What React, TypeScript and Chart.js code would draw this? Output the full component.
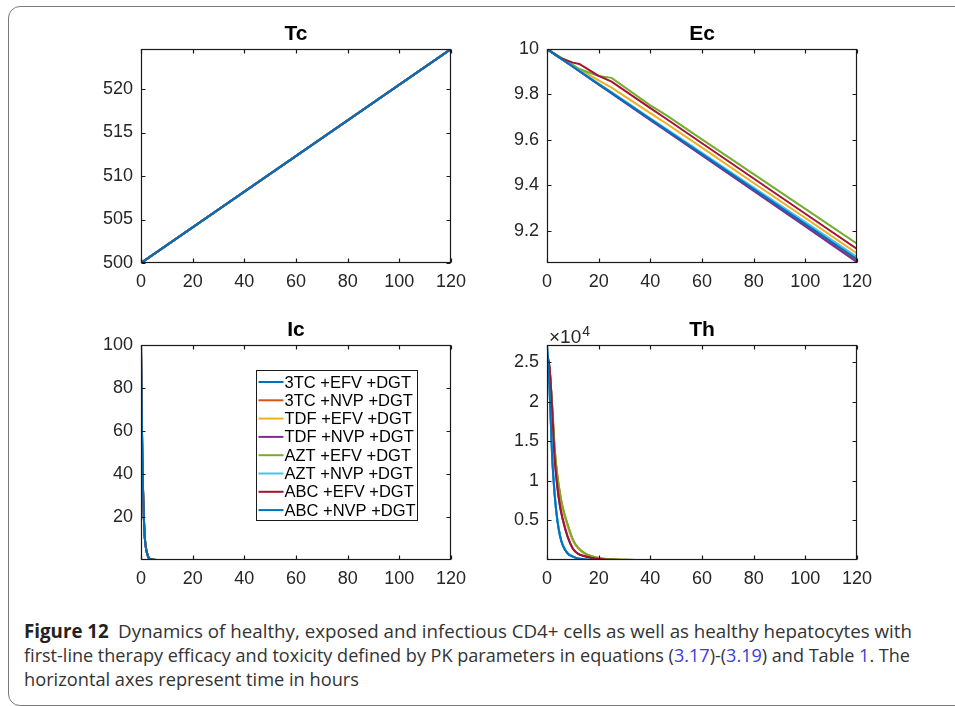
import React, { useEffect, useLayoutEffect, useRef } from "react";
import { Chart, registerables } from "chart.js";
Chart.register(...registerables);

// ---------- data ----------
const seriesNames = [
  "3TC +EFV +DGT",
  "3TC +NVP +DGT",
  "TDF +EFV +DGT",
  "TDF +NVP +DGT",
  "AZT +EFV +DGT",
  "AZT +NVP +DGT",
  "ABC +EFV +DGT",
  "ABC +NVP +DGT",
];
const seriesColors = ["#0072BD", "#D95319", "#EDB120", "#7E2F8E", "#77AC30", "#4DBEEE", "#A2142F", "#0072BD"];

const xTicks = [0, 20, 40, 60, 80, 100, 120];

// Tc (healthy CD4+)
const tcTime = [0, 120];
const tcValues = [
  [500, 524.6],
  [500, 524.6],
  [500, 524.6],
  [500, 524.6],
  [500, 524.6],
  [500, 524.6],
  [500, 524.6],
  [500, 524.6],
];
const tcTicks = [500, 505, 510, 515, 520];

// Ec (exposed CD4+)
const ecTime = [0, 5, 10, 12.5, 20, 25, 40, 46, 60, 80, 100, 120];
const ecValues = [
  [10, 9.961, 9.923, 9.903, 9.845, 9.806, 9.69, 9.644, 9.535, 9.38, 9.225, 9.07],
  [10, 9.961, 9.923, 9.904, 9.846, 9.808, 9.692, 9.646, 9.537, 9.382, 9.227, 9.072],
  [10, 9.963, 9.927, 9.91, 9.862, 9.83, 9.718, 9.673, 9.566, 9.41, 9.256, 9.1],
  [10, 9.961, 9.922, 9.902, 9.843, 9.804, 9.687, 9.64, 9.531, 9.375, 9.219, 9.062],
  [10, 9.965, 9.93, 9.912, 9.881, 9.873, 9.752, 9.71, 9.602, 9.449, 9.296, 9.143],
  [10, 9.962, 9.924, 9.905, 9.848, 9.81, 9.695, 9.65, 9.543, 9.39, 9.238, 9.085],
  [10, 9.962, 9.94, 9.934, 9.882, 9.856, 9.74, 9.694, 9.585, 9.43, 9.275, 9.12],
  [10, 9.961, 9.923, 9.903, 9.845, 9.807, 9.691, 9.645, 9.537, 9.383, 9.229, 9.075],
];
const ecTicks = [9.2, 9.4, 9.6, 9.8, 10];

// Ic (infectious CD4+)
const icTime = [0, 0.2, 0.5, 0.8, 1.1, 1.5, 2, 2.5, 3, 4, 6, 120];
const icValues = [
  [100, 75, 50, 32, 20, 10, 5, 2.5, 1, 0.2, 0, 0],
  [100, 75, 50, 32, 20, 10, 5, 2.5, 1, 0.2, 0, 0],
  [100, 75, 50, 32, 20, 10, 5, 2.5, 1, 0.2, 0, 0],
  [100, 75, 50, 32, 20, 10, 5, 2.5, 1, 0.2, 0, 0],
  [100, 75, 50, 32, 20, 10, 5, 2.5, 1, 0.2, 0, 0],
  [100, 75, 50, 32, 20, 10, 5, 2.5, 1, 0.2, 0, 0],
  [100, 75, 50, 32, 20, 10, 5, 2.5, 1, 0.2, 0, 0],
  [100, 75, 50, 32, 20, 10, 5, 2.5, 1, 0.2, 0, 0],
];
const icTicks = [20, 40, 60, 80, 100];

// Th (healthy hepatocytes)
const thTime = [0, 1, 2, 3, 4, 5, 6, 8, 10, 12, 15, 20, 25, 30, 40, 120];
const thValues = [
  [27100, 21500, 13000, 8100, 5000, 3100, 1950, 820, 420, 190, 50, 5, 0, 0, 0, 0],
  [25600, 24100, 19400, 13800, 10600, 8400, 6700, 4400, 2550, 1520, 760, 250, 80, 26, 3, 0],
  [25700, 24050, 19300, 13600, 10400, 8250, 6550, 4300, 2480, 1480, 740, 245, 78, 25, 3, 0],
  [26100, 24200, 18900, 12700, 9200, 6800, 5200, 2900, 1420, 780, 440, 115, 33, 9, 1, 0],
  [25500, 24000, 19500, 14000, 10800, 8500, 6800, 4500, 2600, 1550, 780, 260, 85, 28, 3, 0],
  [26900, 21700, 13300, 8300, 5150, 3200, 2020, 860, 440, 200, 55, 6, 0, 0, 0, 0],
  [26000, 24300, 19000, 12800, 9300, 6900, 5300, 2950, 1450, 800, 450, 120, 35, 10, 1, 0],
  [27100, 21500, 13000, 8100, 5000, 3100, 1950, 820, 420, 190, 50, 5, 0, 0, 0, 0],
];
const thTicks = [5000, 10000, 15000, 20000, 25000];

// ---------- helpers ----------
const FONT = "'Liberation Sans', Arial, Helvetica, sans-serif";

const boxPlugin = {
  id: "matlabBox",
  afterDatasetsDraw(chart: any) {
    const { ctx, chartArea: a, scales } = chart;
    ctx.save();
    ctx.strokeStyle = "#1a1a1a";
    ctx.lineWidth = 1.2;
    const l = Math.round(a.left) + 0.5;
    const r = Math.round(a.right) - 0.5;
    const t = Math.round(a.top) + 0.5;
    const b = Math.round(a.bottom) - 0.5;
    ctx.strokeRect(l, t, r - l, b - t);
    const tl = 4;
    ctx.beginPath();
    scales.x.ticks.forEach((tk: any) => {
      const px = Math.round(scales.x.getPixelForValue(tk.value)) + 0.5;
      ctx.moveTo(px, b);
      ctx.lineTo(px, b - tl);
      ctx.moveTo(px, t);
      ctx.lineTo(px, t + tl);
    });
    scales.y.ticks.forEach((tk: any) => {
      const py = Math.round(scales.y.getPixelForValue(tk.value)) + 0.5;
      ctx.moveTo(l, py);
      ctx.lineTo(l + tl, py);
      ctx.moveTo(r, py);
      ctx.lineTo(r - tl, py);
    });
    ctx.stroke();
    ctx.restore();
  },
};

const titlePlugin = {
  id: "panelTitle",
  afterDraw(chart: any, _args: any, opts: any) {
    const { ctx, chartArea: a } = chart;
    ctx.save();
    ctx.fillStyle = "#000";
    ctx.font = `bold 21px ${FONT}`;
    ctx.textAlign = "center";
    ctx.textBaseline = "middle";
    ctx.fillText(opts.text, (a.left + a.right) / 2, a.top - 15);
    ctx.restore();
  },
};

const legendPlugin = {
  id: "boxLegend",
  afterDraw(chart: any) {
    const { ctx, chartArea: a } = chart;
    const bx = Math.round(a.left + 115) + 0.5;
    const by = Math.round(a.top + 25) + 0.5;
    const bw = 161;
    const bh = 150;
    ctx.save();
    ctx.fillStyle = "#fff";
    ctx.fillRect(bx, by, bw, bh);
    ctx.strokeStyle = "#1a1a1a";
    ctx.lineWidth = 1;
    ctx.strokeRect(bx, by, bw, bh);
    ctx.font = `16.5px ${FONT}`;
    ctx.textBaseline = "middle";
    seriesNames.forEach((name, i) => {
      const y = by + 11.5 + i * 18.3;
      ctx.strokeStyle = seriesColors[i];
      ctx.lineWidth = 2;
      ctx.beginPath();
      ctx.moveTo(bx + 2, y);
      ctx.lineTo(bx + 27, y);
      ctx.stroke();
      ctx.fillStyle = "#000";
      ctx.fillText(name, bx + 28, y + 1);
    });
    ctx.restore();
  },
};

const exponentPlugin = {
  id: "exponent",
  afterDraw(chart: any) {
    const { ctx, chartArea: a } = chart;
    ctx.save();
    ctx.fillStyle = "#262626";
    ctx.textBaseline = "alphabetic";
    ctx.font = `19px ${FONT}`;
    const base = "\u00d710";
    ctx.fillText(base, a.left + 2, a.top - 2);
    const w = ctx.measureText(base).width;
    ctx.font = `14px ${FONT}`;
    ctx.fillText("4", a.left + 2 + w + 1, a.top - 9);
    ctx.restore();
  },
};

type PanelProps = {
  left: number;
  top: number;
  width: number;
  height: number;
  title: string;
  time: number[];
  values: number[][];
  yMin: number;
  yMax: number;
  yTicks: number[];
  yFormat: (v: number) => string;
  smooth: boolean;
  plugins: any[];
};

const PADL = 70;
const PADR = 40;
const PADT = 40;
const PADB = 40;

function Panel(p: PanelProps) {
  const ref = useRef<HTMLCanvasElement>(null);
  useEffect(() => {
    if (!ref.current) return;
    const datasets = p.values.map((vals, i) => ({
      label: seriesNames[i],
      data: p.time.map((t, j) => ({ x: t, y: vals[j] })),
      borderColor: seriesColors[i],
      backgroundColor: seriesColors[i],
      borderWidth: 2,
      pointRadius: 0,
      fill: false,
      order: p.values.length - i,
      tension: 0,
      cubicInterpolationMode: p.smooth ? "monotone" : "default",
    }));
    const chart = new Chart(ref.current, {
      type: "line",
      data: { datasets: datasets as any },
      options: {
        animation: false,
        responsive: false,
        devicePixelRatio: 1,
        layout: { padding: { left: 0, right: PADR, top: PADT, bottom: 0 } },
        plugins: {
          legend: { display: false },
          tooltip: { enabled: false },
          title: { display: false },
          panelTitle: { text: p.title },
        },
        scales: {
          x: {
            type: "linear",
            min: 0,
            max: 120,
            afterBuildTicks: (s: any) => {
              s.ticks = xTicks.map((v) => ({ value: v }));
            },
            afterFit: (s: any) => {
              s.height = PADB;
            },
            grid: { display: false, drawTicks: false },
            border: { display: false },
            ticks: {
              autoSkip: false,
              maxRotation: 0,
              padding: 8,
              color: "#262626",
              font: { family: FONT, size: 18 },
              callback: (v: any) => String(v),
            },
          },
          y: {
            type: "linear",
            min: p.yMin,
            max: p.yMax,
            afterBuildTicks: (s: any) => {
              s.ticks = p.yTicks.map((v) => ({ value: v }));
            },
            afterFit: (s: any) => {
              s.width = PADL;
            },
            grid: { display: false, drawTicks: false },
            border: { display: false },
            ticks: {
              autoSkip: false,
              padding: 8,
              color: "#262626",
              font: { family: FONT, size: 18 },
              callback: (v: any) => p.yFormat(Number(v)),
            },
          },
        },
      } as any,
      plugins: [boxPlugin, titlePlugin, ...p.plugins],
    });
    return () => chart.destroy();
  }, []);
  const cw = p.width + PADL + PADR;
  const ch = p.height + PADT + PADB;
  return (
    <canvas
      ref={ref}
      width={cw}
      height={ch}
      style={{ position: "absolute", left: p.left - PADL, top: p.top - PADT, width: cw, height: ch }}
    />
  );
}

function FitLine({ top, left, width, children }: { top: number; left: number; width: number; children: any }) {
  const ref = useRef<HTMLSpanElement>(null);
  useLayoutEffect(() => {
    const el = ref.current;
    if (!el) return;
    el.style.transform = "none";
    const w = el.getBoundingClientRect().width;
    if (w > 0) el.style.transform = `scaleX(${width / w})`;
  }, []);
  return (
    <div style={{ position: "absolute", left, top, whiteSpace: "nowrap", lineHeight: "24px", height: 24 }}>
      <span ref={ref} style={{ display: "inline-block", transformOrigin: "0 0" }}>
        {children}
      </span>
    </div>
  );
}

const LINK = "#3b3bd9";

export default function App() {
  return (
    <div
      style={{
        position: "fixed",
        left: 0,
        top: 0,
        width: 955,
        height: 706,
        overflow: "hidden",
        background: "#fff",
      }}
    >
      <div
        style={{
          position: "absolute",
          left: 8,
          top: 6,
          width: 1000,
          height: 698,
          border: "1px solid #7a7a7a",
          borderRadius: 12,
          boxSizing: "content-box",
        }}
      />
      <Panel
        left={141}
        top={49}
        width={310}
        height={214}
        title="Tc"
        time={tcTime}
        values={tcValues}
        yMin={500}
        yMax={524.6}
        yTicks={tcTicks}
        yFormat={(v) => String(v)}
        smooth={false}
        plugins={[]}
      />
      <Panel
        left={547}
        top={49}
        width={310}
        height={214}
        title="Ec"
        time={ecTime}
        values={ecValues}
        yMin={9.058}
        yMax={10}
        yTicks={ecTicks}
        yFormat={(v) => String(Math.round(v * 10) / 10)}
        smooth={false}
        plugins={[]}
      />
      <Panel
        left={141}
        top={345}
        width={310}
        height={215}
        title="Ic"
        time={icTime}
        values={icValues}
        yMin={0}
        yMax={100}
        yTicks={icTicks}
        yFormat={(v) => String(v)}
        smooth={true}
        plugins={[legendPlugin]}
      />
      <Panel
        left={547}
        top={345}
        width={310}
        height={215}
        title="Th"
        time={thTime}
        values={thValues}
        yMin={0}
        yMax={27150}
        yTicks={thTicks}
        yFormat={(v) => String(v / 10000)}
        smooth={true}
        plugins={[exponentPlugin]}
      />
      <div style={{ fontFamily: "'Open Sans', 'Noto Sans', sans-serif", fontSize: 19, color: "#333" }}>
        <FitLine left={24} top={619} width={888}>
          <b style={{ color: "#222" }}>Figure 12</b>
          {"\u2002Dynamics of healthy, exposed and infectious CD4+ cells as well as healthy hepatocytes with"}
        </FitLine>
        <FitLine left={24} top={643} width={886}>
          {"first-line therapy efficacy and toxicity defined by PK parameters in equations ("}
          <span style={{ color: LINK }}>3.17</span>
          {")-("}
          <span style={{ color: LINK }}>3.19</span>
          {") and Table "}
          <span style={{ color: LINK }}>1</span>
          {". The"}
        </FitLine>
        <FitLine left={24} top={667} width={335}>
          {"horizontal axes represent time in hours"}
        </FitLine>
      </div>
    </div>
  );
}
